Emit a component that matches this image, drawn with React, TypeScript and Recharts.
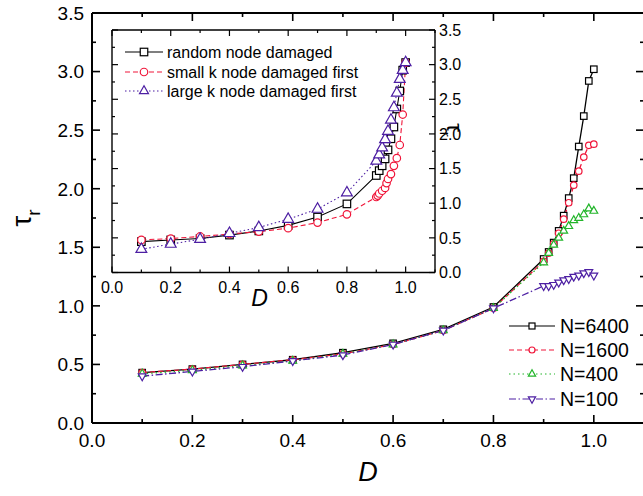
import React from "react";
import { Legend, Line, LineChart, XAxis, YAxis } from "recharts";

// damage fraction D
const dMain = [0.1, 0.2, 0.3, 0.4, 0.5, 0.6, 0.7, 0.8, 0.9, 0.91, 0.92, 0.93, 0.94, 0.95, 0.96, 0.97, 0.98, 0.99, 1.0];
const tau6400 = [0.43, 0.46, 0.5, 0.54, 0.6, 0.68, 0.8, 0.99, 1.4, 1.46, 1.54, 1.64, 1.77, 1.92, 2.09, 2.36, 2.62, 2.92, 3.02];
const tau1600 = [0.43, 0.46, 0.5, 0.54, 0.59, 0.67, 0.79, 0.98, 1.38, 1.45, 1.53, 1.62, 1.74, 1.88, 2.03, 2.15, 2.27, 2.37, 2.38];
const tau400 = [0.42, 0.45, 0.49, 0.53, 0.59, 0.67, 0.79, 0.98, 1.37, 1.45, 1.52, 1.58, 1.64, 1.68, 1.73, 1.75, 1.78, 1.83, 1.81];
const tau100 = [0.4, 0.44, 0.48, 0.53, 0.58, 0.67, 0.79, 0.98, 1.17, 1.17, 1.18, 1.2, 1.22, 1.23, 1.25, 1.26, 1.28, 1.29, 1.26];

// inset
const tauRandom = [0.445, 0.47, 0.49, 0.54, 0.6, 0.68, 0.8, 0.99, 1.4, 1.47, 1.54, 1.64, 1.77, 1.93, 2.1, 2.36, 2.62, 2.92, 3.03];
const tauLargeK = [0.335, 0.41, 0.48, 0.565, 0.65, 0.77, 0.915, 1.15, 1.61, 1.7, 1.8, 1.92, 2.04, 2.2, 2.38, 2.59, 2.79, 2.92, 3.03];
const dSmallK = [0.1, 0.2, 0.3, 0.4, 0.5, 0.6, 0.7, 0.8, 0.9, 0.905, 0.91, 0.92, 0.93, 0.935, 0.94, 0.95, 0.96, 0.97, 0.98, 0.99, 1.0];
const tauSmallK = [0.47, 0.49, 0.52, 0.555, 0.59, 0.64, 0.72, 0.84, 1.09, 1.11, 1.14, 1.18, 1.22, 1.29, 1.35, 1.42, 1.54, 1.65, 1.84, 2.28, 3.03];

const xTicks = [0, 0.1, 0.2, 0.3, 0.4, 0.5, 0.6, 0.7, 0.8, 0.9, 1.0, 1.1];
const yTicks = [0, 0.25, 0.5, 0.75, 1, 1.25, 1.5, 1.75, 2, 2.25, 2.5, 2.75, 3, 3.25, 3.5];

const FONT = "'Liberation Sans', Arial, sans-serif";
const BLACK = "#000000";
const RED = "#f0163a";
const GREEN = "#22b52a";
const PURPLE = "#4d1fa3";

type Shape = "square" | "circle" | "up" | "down";

interface SeriesDef {
  name: string;
  color: string;
  dash?: string;
  shape: Shape;
}

const mainSeries: SeriesDef[] = [
  { name: "N=6400", color: BLACK, shape: "square" },
  { name: "N=1600", color: RED, dash: "5 3", shape: "circle" },
  { name: "N=400", color: GREEN, dash: "1.5 3", shape: "up" },
  { name: "N=100", color: PURPLE, dash: "7 2.5 1.5 2.5", shape: "down" },
];

const insetSeries: SeriesDef[] = [
  { name: "random node damaged", color: BLACK, shape: "square" },
  { name: "small k node damaged first", color: RED, dash: "5 3", shape: "circle" },
  { name: "large k node damaged first", color: PURPLE, dash: "1.5 2.5", shape: "up" },
];

const toPoints = (xs: number[], ys: number[]) => xs.map((x, i) => ({ x, y: ys[i] }));

const mainData = [tau6400, tau1600, tau400, tau100].map((ys) => toPoints(dMain, ys));
const insetData = [
  toPoints(dMain, tauRandom),
  toPoints(dSmallK, tauSmallK),
  toPoints(dMain, tauLargeK),
];

function Marker({ cx, cy, shape, size, color }: { cx: number; cy: number; shape: Shape; size: number; color: string }) {
  if (cx == null || cy == null) return null;
  const s = size;
  if (shape === "square") {
    return <rect x={cx - s / 2} y={cy - s / 2} width={s} height={s} fill="#fff" stroke={color} strokeWidth={1.2} />;
  }
  if (shape === "circle") {
    return <circle cx={cx} cy={cy} r={s / 2} fill="#fff" stroke={color} strokeWidth={1.2} />;
  }
  const w = s * 1.2;
  const h = s * 1.05;
  const pts =
    shape === "up"
      ? `${cx},${cy - (h * 2) / 3} ${cx - w / 2},${cy + h / 3} ${cx + w / 2},${cy + h / 3}`
      : `${cx},${cy + (h * 2) / 3} ${cx - w / 2},${cy - h / 3} ${cx + w / 2},${cy - h / 3}`;
  return <polygon points={pts} fill="#fff" stroke={color} strokeWidth={1.2} />;
}

const isMajorX = (v: number) => Math.round(v * 10) % 2 === 0 && v < 1.05;
const isMajorY = (v: number) => Math.abs(v * 2 - Math.round(v * 2)) < 1e-6;

function makeXTick(side: "bottom" | "top", major: number, minor: number, fontSize: number, labelDy: number, labels: boolean, width: number) {
  return (props: any) => {
    const { x, y, payload } = props;
    const v = payload.value as number;
    const big = isMajorX(v);
    const len = big ? major : minor;
    const y2 = side === "bottom" ? y - len : y + len;
    return (
      <g>
        <line x1={x} x2={x} y1={y} y2={y2} stroke="#000" strokeWidth={width} />
        {labels && big && (
          <text x={x} y={y + labelDy} textAnchor="middle" fontSize={fontSize} fontFamily={FONT} fill="#000">
            {v.toFixed(1)}
          </text>
        )}
      </g>
    );
  };
}

function makeYTick(side: "left" | "right", major: number, minor: number, fontSize: number, labelGap: number, labels: boolean, width: number) {
  return (props: any) => {
    const { x, y, payload } = props;
    const v = payload.value as number;
    const big = isMajorY(v);
    const len = big ? major : minor;
    const x2 = side === "left" ? x + len : x - len;
    return (
      <g>
        <line x1={x} x2={x2} y1={y} y2={y} stroke="#000" strokeWidth={width} />
        {labels && big && (
          <text
            x={side === "left" ? x - labelGap : x + labelGap}
            y={y}
            dy="0.36em"
            textAnchor={side === "left" ? "end" : "start"}
            fontSize={fontSize}
            fontFamily={FONT}
            fill="#000"
          >
            {v.toFixed(1)}
          </text>
        )}
      </g>
    );
  };
}

function LegendBox({ items, rowY, lineX1, lineX2, textX, fontSize, markerSize, width, height }: {
  items: SeriesDef[];
  rowY: number[];
  lineX1: number;
  lineX2: number;
  textX: number;
  fontSize: number;
  markerSize: number;
  width: number;
  height: number;
}) {
  const mid = (lineX1 + lineX2) / 2;
  return (
    <svg width={width} height={height} style={{ display: "block", overflow: "visible" }}>
      {items.map((s, i) => (
        <g key={s.name}>
          <line x1={lineX1} x2={lineX2} y1={rowY[i]} y2={rowY[i]} stroke={s.color} strokeWidth={1.2} strokeDasharray={s.dash} />
          <Marker cx={mid} cy={rowY[i]} shape={s.shape} size={markerSize} color={s.color} />
          <text x={textX} y={rowY[i]} dy="0.36em" fontSize={fontSize} fontFamily={FONT} fill="#000">
            {s.name}
          </text>
        </g>
      ))}
    </svg>
  );
}

const axisLine = (w: number) => ({ stroke: "#000", strokeWidth: w });

// axes get size 1 (Recharts skips axes of size 0), margins are reduced by that 1px
function MainChart() {
  return (
    <LineChart width={660} height={496} margin={{ top: 12, right: 15, bottom: 72, left: 91 }}>
      <XAxis
        xAxisId="b"
        dataKey="x"
        type="number"
        domain={[0, 1.1]}
        ticks={xTicks}
        interval={0}
        height={1}
        tickSize={0}
        tickMargin={0}
        tickLine={false}
        axisLine={axisLine(2)}
        allowDataOverflow
        tick={makeXTick("bottom", 8, 4, 19, 24, true, 1.6)}
        label={{
          content: (p: any) => {
            const vb = p.viewBox;
            return (
              <text x={vb.x + vb.width / 2} y={vb.y + 58} textAnchor="middle" fontSize={27} fontStyle="italic" fontFamily={FONT}>
                D
              </text>
            );
          },
        }}
      />
      <XAxis
        xAxisId="t"
        orientation="top"
        dataKey="x"
        type="number"
        domain={[0, 1.1]}
        ticks={xTicks}
        interval={0}
        height={1}
        tickSize={0}
        tickMargin={0}
        tickLine={false}
        axisLine={axisLine(2)}
        allowDataOverflow
        tick={makeXTick("top", 8, 4, 19, 0, false, 1.6)}
      />
      <YAxis
        yAxisId="l"
        type="number"
        domain={[0, 3.5]}
        ticks={yTicks}
        interval={0}
        width={1}
        tickSize={0}
        tickMargin={0}
        tickLine={false}
        axisLine={axisLine(2)}
        allowDataOverflow
        tick={makeYTick("left", 8, 4, 19, 8, true, 1.6)}
        label={{
          content: (p: any) => {
            const vb = p.viewBox;
            const cx = vb.x - 60;
            const cy = vb.y + vb.height / 2;
            return (
              <text transform={`translate(${cx},${cy}) rotate(-90)`} textAnchor="middle" fontSize={28} fontFamily={FONT}>
                τ
                <tspan fontSize={19} dy={9}>
                  r
                </tspan>
              </text>
            );
          },
        }}
      />
      <YAxis
        yAxisId="r"
        orientation="right"
        type="number"
        domain={[0, 3.5]}
        ticks={yTicks}
        interval={0}
        width={1}
        tickSize={0}
        tickMargin={0}
        tickLine={false}
        axisLine={axisLine(2)}
        allowDataOverflow
        tick={makeYTick("right", 8, 4, 19, 8, false, 1.6)}
      />
      {mainSeries.map((s, i) => (
        <Line
          key={s.name}
          xAxisId="b"
          yAxisId="l"
          data={mainData[i]}
          dataKey="y"
          name={s.name}
          type="linear"
          stroke={s.color}
          strokeWidth={1.3}
          strokeDasharray={s.dash}
          isAnimationActive={false}
          dot={(p: any) => <Marker key={`${s.name}-${p.index}`} cx={p.cx} cy={p.cy} shape={s.shape} size={6.5} color={s.color} />}
          activeDot={false}
        />
      ))}
      <Legend
        layout="horizontal"
        align="center"
        verticalAlign="middle"
        wrapperStyle={{ left: 505, top: 314, width: 140, height: 100 }}
        content={() => (
          <LegendBox
            items={mainSeries}
            rowY={[12, 36, 60, 85]}
            lineX1={4}
            lineX2={50}
            textX={55}
            fontSize={19.5}
            markerSize={6}
            width={140}
            height={100}
          />
        )}
      />
    </LineChart>
  );
}

function InsetChart() {
  return (
    <LineChart width={643} height={496} margin={{ top: 29, right: 207, bottom: 222.5, left: 111 }}>
      <XAxis
        xAxisId="b"
        dataKey="x"
        type="number"
        domain={[0, 1.1]}
        ticks={xTicks}
        interval={0}
        height={1}
        tickSize={0}
        tickMargin={0}
        tickLine={false}
        axisLine={axisLine(1.4)}
        allowDataOverflow
        tick={makeXTick("bottom", 6, 3, 16, 20, true, 1.2)}
        label={{
          content: (p: any) => {
            const vb = p.viewBox;
            return (
              <text x={vb.x + vb.width / 2 - 14} y={vb.y + 33} textAnchor="middle" fontSize={23} fontStyle="italic" fontFamily={FONT}>
                D
              </text>
            );
          },
        }}
      />
      <XAxis
        xAxisId="t"
        orientation="top"
        dataKey="x"
        type="number"
        domain={[0, 1.1]}
        ticks={xTicks}
        interval={0}
        height={1}
        tickSize={0}
        tickMargin={0}
        tickLine={false}
        axisLine={axisLine(1.4)}
        allowDataOverflow
        tick={makeXTick("top", 6, 3, 16, 0, false, 1.2)}
      />
      <YAxis
        yAxisId="l"
        type="number"
        domain={[0, 3.5]}
        ticks={yTicks}
        interval={0}
        width={1}
        tickSize={0}
        tickMargin={0}
        tickLine={false}
        axisLine={axisLine(1.4)}
        allowDataOverflow
        tick={makeYTick("left", 6, 3, 16, 4, false, 1.2)}
      />
      <YAxis
        yAxisId="r"
        orientation="right"
        type="number"
        domain={[0, 3.5]}
        ticks={yTicks}
        interval={0}
        width={1}
        tickSize={0}
        tickMargin={0}
        tickLine={false}
        axisLine={axisLine(1.4)}
        allowDataOverflow
        tick={makeYTick("right", 6, 3, 16, 4, true, 1.2)}
        label={{
          content: (p: any) => {
            const vb = p.viewBox;
            const cx = vb.x + 12;
            const cy = vb.y + 100;
            return (
              <text transform={`translate(${cx},${cy}) rotate(90)`} textAnchor="middle" fontSize={22} fontFamily={FONT}>
                τ
                <tspan fontSize={15} dy={7}>
                  r
                </tspan>
              </text>
            );
          },
        }}
      />
      {insetSeries.map((s, i) => (
        <Line
          key={s.name}
          xAxisId="b"
          yAxisId="l"
          data={insetData[i]}
          dataKey="y"
          name={s.name}
          type="linear"
          stroke={s.color}
          strokeWidth={1.1}
          strokeDasharray={s.dash}
          isAnimationActive={false}
          dot={(p: any) => <Marker key={`${s.name}-${p.index}`} cx={p.cx} cy={p.cy} shape={s.shape} size={s.shape === "up" ? 9 : 7.5} color={s.color} />}
          activeDot={false}
        />
      ))}
      <Legend
        layout="horizontal"
        align="center"
        verticalAlign="middle"
        wrapperStyle={{ left: 120, top: 40, width: 260, height: 65 }}
        content={() => (
          <LegendBox
            items={insetSeries}
            rowY={[12, 32, 51]}
            lineX1={5}
            lineX2={43}
            textX={47}
            fontSize={16}
            markerSize={7.5}
            width={260}
            height={65}
          />
        )}
      />
    </LineChart>
  );
}

export default function App() {
  return (
    <div style={{ position: "absolute", left: 0, top: 0, width: 643, height: 496, overflow: "hidden", background: "#fff" }}>
      <div style={{ position: "absolute", left: 0, top: 0 }}>
        <MainChart />
      </div>
      <div style={{ position: "absolute", left: 0, top: 0 }}>
        <InsetChart />
      </div>
    </div>
  );
}
